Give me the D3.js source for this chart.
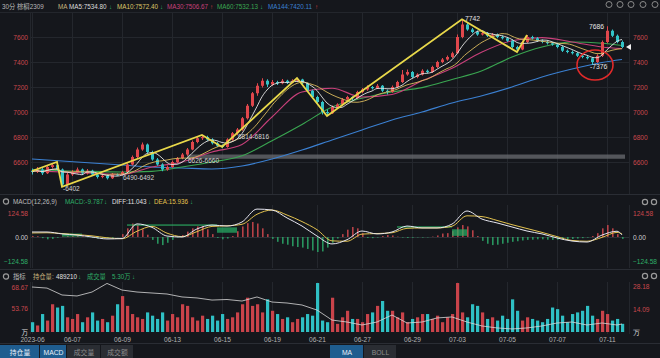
<!DOCTYPE html>
<html><head><meta charset="utf-8">
<script src="https://cdn.jsdelivr.net/npm/d3@7/dist/d3.min.js"></script>
<style>
html,body{margin:0;padding:0;background:#15171c;}
svg{display:block;font-family:"Liberation Sans","Noto Sans CJK SC",sans-serif;}
</style></head><body>
<svg id="c" width="660" height="358"></svg>
<script>
// ---------- DATA ----------
const candles = [
[6530,6548,6500,6520],[6520,6560,6512,6540],[6540,6552,6496,6510],[6510,6572,6504,6560],[6560,6590,6548,6575],
[6575,6600,6530,6540],[6540,6548,6402,6420],[6420,6512,6410,6500],[6500,6536,6488,6520],[6520,6556,6508,6540],
[6540,6548,6496,6510],[6510,6544,6500,6530],[6530,6538,6490,6500],[6500,6510,6468,6480],[6480,6506,6470,6490],
[6490,6500,6460,6470],[6470,6512,6464,6500],[6500,6508,6490,6495],[6495,6530,6490,6520],[6520,6590,6514,6580],
[6580,6652,6572,6640],[6640,6716,6630,6700],[6700,6756,6690,6740],[6740,6748,6670,6680],[6680,6690,6610,6620],
[6620,6632,6570,6580],[6580,6590,6526,6540],[6540,6572,6530,6560],[6560,6612,6552,6600],[6600,6640,6590,6630],
[6630,6672,6622,6660],[6660,6712,6650,6700],[6700,6772,6694,6760],[6760,6800,6750,6790],[6790,6816,6776,6800],
[6800,6810,6770,6780],[6780,6790,6740,6750],[6750,6760,6720,6730],[6730,6740,6710,6720],[6720,6790,6714,6780],
[6780,6840,6770,6830],[6830,6872,6814,6860],[6860,6960,6850,6950],[6950,7064,6940,7050],[7050,7160,7040,7150],
[7150,7230,7130,7210],[7210,7270,7196,7250],[7250,7262,7200,7220],[7220,7256,7210,7240],[7240,7250,7216,7230],
[7230,7264,7222,7250],[7250,7258,7224,7235],[7235,7262,7230,7250],[7250,7272,7240,7260],[7260,7266,7220,7230],
[7230,7236,7160,7170],[7170,7180,7110,7120],[7120,7130,7066,7080],[7080,7090,6980,7000],[7000,7020,6968,6990],
[6990,7052,6984,7040],[7040,7070,7030,7060],[7060,7112,7050,7100],[7100,7130,7090,7120],[7120,7126,7096,7110],
[7110,7170,7104,7160],[7160,7192,7150,7180],[7180,7214,7170,7200],[7200,7208,7180,7190],[7190,7224,7184,7210],
[7210,7216,7160,7170],[7170,7180,7140,7160],[7160,7212,7154,7200],[7200,7250,7192,7240],[7240,7336,7232,7300],
[7300,7340,7290,7320],[7320,7328,7270,7280],[7280,7310,7270,7300],[7300,7342,7292,7330],[7330,7340,7310,7320],
[7320,7370,7312,7360],[7360,7410,7352,7400],[7400,7432,7390,7420],[7420,7452,7410,7440],[7440,7482,7430,7470],
[7470,7620,7464,7600],[7600,7742,7590,7700],[7700,7712,7650,7660],[7660,7672,7630,7640],[7640,7652,7610,7620],
[7620,7646,7612,7630],[7630,7640,7600,7610],[7610,7632,7600,7620],[7620,7628,7590,7600],[7600,7612,7580,7590],
[7590,7600,7560,7570],[7570,7580,7510,7520],[7520,7530,7480,7500],[7500,7572,7494,7560],[7560,7616,7552,7600],
[7600,7610,7580,7590],[7590,7600,7560,7570],[7570,7580,7550,7560],[7560,7572,7540,7550],[7550,7560,7530,7540],
[7540,7548,7510,7520],[7520,7530,7480,7490],[7490,7500,7470,7480],[7480,7492,7460,7470],[7470,7480,7440,7450],
[7450,7462,7430,7440],[7440,7452,7420,7430],[7430,7440,7376,7400],[7400,7462,7392,7450],[7450,7572,7440,7560],
[7560,7686,7550,7650],[7650,7660,7600,7610],[7610,7620,7550,7560],[7560,7572,7510,7520]
];
const volumes = [6,4,11,7,17,15,16,9,8,11,6,9,12,7,8,6,10,17,22,16,11,9,8,12,10,8,12,7,11,9,
17,16,9,7,10,8,10,7,11,8,9,12,17,21,16,17,12,20,13,11,8,9,6,8,9,11,10,30,7,6,
21,5,9,13,8,8,6,11,12,16,19,13,13,9,12,6,8,9,11,11,8,10,6,9,11,30,12,9,17,16,
12,8,9,7,10,8,20,13,7,9,8,7,6,8,15,14,10,6,11,12,13,16,10,8,13,11,7,8,5];
const maIdx = [0,6,12,18,24,30,36,42,48,54,60,66,72,78,84,90,96,102,108,114,118];
const ma30  = [6530,6520,6510,6500,6560,6600,6680,6740,6960,7160,7190,7120,7140,7250,7350,7480,7570,7595,7560,7520,7506.67];
const ma60  = [6540,6530,6525,6520,6525,6560,6600,6650,6770,6900,7040,7110,7160,7195,7260,7330,7440,7520,7560,7550,7532.13];
const ma144 = [6624,6608,6592,6576,6560,6552,6544,6568,6624,6696,6776,6856,6936,7000,7072,7130,7200,7280,7344,7396,7420.11];
const subIdx = [0,3,6,9,12,15,18,21,24,27,30,33,36,39,42,45,48,51,54,57,60,63,66,69,72,75,78,81,84,87,90,93,96,99,102,105,108,111,114,117,118];
const diff = [26,26,16,10,0,-10,-8,68,50,5,0,42,62,57,78,145,140,99,57,5,-36,-14,31,16,26,57,47,47,67,135,93,73,52,31,16,-5,-21,-26,10,30,11.043];
const dea  = [21,22,18,12,6,-4,-9,30,55,20,2,28,55,58,66,118,140,114,80,38,-20,-22,15,18,22,45,47,47,56,110,106,86,64,44,24,2,-18,-22,-2,24,15.936];
const macdHist = [5,4,-6,-12,-10,-4,2,5,6,5,3,-2,-5,-8,-8,-6,-4,-1,15,45,70,62,40,12,-15,-35,-42,-30,-15,-3,
10,28,45,55,57,40,15,-5,-12,-8,5,30,55,72,78,70,45,15,-10,-25,-35,-40,-48,-52,-55,-62,-70,-78,-75,-55,
-30,-8,15,38,52,45,20,-5,-6,-3,5,10,8,2,-3,-5,-4,-2,-3,-2,2,8,18,20,30,50,62,55,35,5,
-20,-35,-42,-40,-35,-30,-25,-22,-18,-15,-14,-12,-12,-14,-15,-14,-12,-12,-10,-8,-6,-3,5,20,45,62,45,15,-9.787];
const openInterest = [68.67,67.9,63.0,62.3,65.1,71.2,66.5,65.1,64.4,63.7,61.6,60.9,59.4,59.8,58.7,61.6,58.0,57.3,55.9,52.3,
45.2,43.8,41.7,43.8,48.8,43.1,43.8,46.7,47.4,43.8,41.0,39.6,38.9,39.6,41.0,43.1,43.8,41.7,43.1,41.7,42.4];
const zigzag = [[0,6528],[5,6600],[6,6402],[34,6816],[38,6720],[53,7272],[59,6968],[86,7742],[97,7480],[99,7616]];
const priceLabels = [[6,6402,"-6402"],[18,6490,"6490-6492"],[31,6626,"6626-6660"],[41,6814,"6814-6816"]];
const gapBand = [31,6626,6660];
const peakLabels = [[86,7742,"7742","start"],[115,7686,"7686","end"],[112,7376,"-7376","start"]];
const dateTicks = [[0,"2023-06"],[8,"06-07"],[18,"06-09"],[28,"06-13"],[38,"06-15"],[48,"06-19"],[57,"06-21"],[66,"06-27"],[76,"06-29"],[85,"07-03"],[95,"07-05"],[105,"07-07"],[115,"07-11"]];
const priceTicks = [6600,6800,7000,7200,7400,7600];
const macdTicks = [-124.58,0,124.58];
const volTicks = [0,14.09,28.18];
const oiTicks = [53.76,68.67];
const macdMarks = [[19,37,62],[73,84,52]];
const macdBoxes = [[6,10,2,18],[37,41,22,50],[84,87,6,40]];

// ---------- SETUP ----------
const svg = d3.select("#c");
svg.append("rect").attr("width",660).attr("height",358).attr("fill","#15171c");
const N = candles.length;
const x = d3.scaleLinear().domain([0,N-1]).range([32,622]);
const y = d3.scaleLinear().domain([6600,7600]).range([162,37]);
const yM = d3.scaleLinear().domain([-124.58,124.58]).range([261,213]);
const yV = d3.scaleLinear().domain([0,28.18]).range([332,286]);
const yOI = d3.scaleLinear().domain([53.76,68.67]).range([308,287]);
const RED="#e0474c", CYAN="#33c3c7", GREEN="#2fae67", GRID="#24272d";

[194.5,269.5,343.5].forEach(b=>{
  svg.append("line").attr("x1",0).attr("x2",660).attr("y1",b).attr("y2",b).attr("stroke","#2a2d34");
});
svg.append("line").attr("x1",0).attr("x2",660).attr("y1",12.5).attr("y2",12.5).attr("stroke","#23262c");
[30.5,629.5].forEach(v=>{
  [[13,194],[205,268],[282,334]].forEach(([a,b])=>svg.append("line").attr("x1",v).attr("x2",v).attr("y1",a).attr("y2",b).attr("stroke","#23262c"));
});

// grid
const g = svg.append("g");
priceTicks.forEach(p=>g.append("line").attr("x1",31).attr("x2",629).attr("y1",Math.round(y(p))+0.5).attr("y2",Math.round(y(p))+0.5).attr("stroke",GRID));
dateTicks.forEach(([i])=>{
  const xx = Math.round(x(i))+0.5;
  [[13,194],[205,268],[282,334]].forEach(([a,b])=>g.append("line").attr("x1",xx).attr("x2",xx).attr("y1",a).attr("y2",b).attr("stroke",GRID));
});
g.append("line").attr("x1",31).attr("x2",629).attr("y1",yM(0)+0.5).attr("y2",yM(0)+0.5).attr("stroke","#2c3036");

// ---------- MAIN PANEL ----------
svg.append("defs").append("clipPath").attr("id","mainclip").append("rect").attr("x",31).attr("y",13).attr("width",598).attr("height",181);
const main = svg.append("g").attr("clip-path","url(#mainclip)");

main.append("rect").attr("x",x(gapBand[0])).attr("width",x(N-1)+3-x(gapBand[0]))
  .attr("y",y(gapBand[2])).attr("height",y(gapBand[1])-y(gapBand[2])).attr("fill","#6a6c70").attr("opacity",0.75);

const closes = candles.map(d=>d[3]);
const rolling = n => closes.map((c,i)=>d3.mean(closes.slice(Math.max(0,i-n+1),i+1)));
const line = d3.line().x(d=>x(d[0])).y(d=>y(d[1])).curve(d3.curveMonotoneX);
const drawMA = (idx, vals, color, w) => main.append("path").attr("d",line(idx.map((i,k)=>[i,vals[k]]))).attr("fill","none").attr("stroke",color).attr("stroke-width",w);
drawMA(maIdx, ma144, "#3b80d2", 1.1);
drawMA(maIdx, ma60, "#3aa651", 1.1);
drawMA(maIdx, ma30, "#c8407a", 1.1);

const cg = main.append("g");
candles.forEach((d,i)=>{
  const [o,h,l,c]=d; const col = c>=o?RED:CYAN; const cx = Math.round(x(i));
  cg.append("line").attr("x1",cx+0.5).attr("x2",cx+0.5).attr("y1",y(h)).attr("y2",y(l)).attr("stroke",col).attr("stroke-width",1);
  const top = y(Math.max(o,c)), bot = y(Math.min(o,c));
  cg.append("rect").attr("x",cx-1).attr("width",3).attr("y",top).attr("height",Math.max(1,bot-top)).attr("fill",col);
});

const ma5 = rolling(5), ma10 = rolling(10);
main.append("path").attr("d",line(ma10.map((v,i)=>[i,v]))).attr("fill","none").attr("stroke","#d9b95c").attr("stroke-width",0.9);
main.append("path").attr("d",line(ma5.map((v,i)=>[i,v]))).attr("fill","none").attr("stroke","#e4e4e4").attr("stroke-width",0.9);

main.append("path").attr("d",d3.line().x(d=>x(d[0])).y(d=>y(d[1]))(zigzag)).attr("fill","none").attr("stroke","#e8d84a").attr("stroke-width",1.8);

priceLabels.forEach(([i,p,t])=>main.append("text").attr("x",x(i)+1).attr("y",y(p)+4).attr("fill","#d4d4d4").attr("font-size",6.5).text(t));
peakLabels.forEach(([i,p,t,a])=>main.append("text").attr("x",a==="end"?x(i)-3:x(i)+(t[0]==="-"?-2:3)).attr("y",a==="end"?y(p)+3:(t[0]==="-"?y(p)+4:y(p)+2)).attr("text-anchor",a).attr("fill","#e6e6e6").attr("font-size",6.8).text(t));

svg.append("ellipse").attr("cx",x(112)+3).attr("cy",y(7376)).attr("rx",18).attr("ry",15).attr("fill","none").attr("stroke","#e02a2a").attr("stroke-width",1.6);

const lp = y(closes[N-1]);
svg.append("path").attr("d",`M626,${lp} L631,${lp-3} L631,${lp+3} Z`).attr("fill","#f0f0f0");

const styleAxis = (sel,color)=>{sel.select(".domain").remove(); sel.selectAll("text").attr("fill",color).attr("font-size",6.6).attr("font-family","Liberation Sans, sans-serif");};
svg.append("g").attr("transform","translate(30,0)").call(d3.axisLeft(y).tickValues(priceTicks).tickSize(0).tickPadding(2).tickFormat(d3.format("d"))).call(s=>styleAxis(s,"#c9474c"));
svg.append("g").attr("transform","translate(630,0)").call(d3.axisRight(y).tickValues(priceTicks).tickSize(0).tickPadding(3).tickFormat(d3.format("d"))).call(s=>styleAxis(s,"#c9474c"));

// ---------- MACD PANEL ----------
const mg = svg.append("g");
macdHist.forEach((v,i)=>{
  const cx = Math.round(x(i));
  mg.append("rect").attr("x",cx).attr("width",1.6).attr("y",Math.min(yM(v),yM(0))).attr("height",Math.abs(yM(v)-yM(0))).attr("fill",v>=0?"#c8464c":"#2aa266").attr("opacity",0.9);
});
macdMarks.forEach(([a,b,v])=>mg.append("line").attr("x1",x(a)).attr("x2",x(b)).attr("y1",yM(v)).attr("y2",yM(v)).attr("stroke","#2fbf6a").attr("stroke-width",1));
macdBoxes.forEach(([a,b,lo,hi])=>mg.append("rect").attr("x",x(a)).attr("width",x(b)-x(a)).attr("y",yM(hi)).attr("height",yM(lo)-yM(hi)).attr("fill","#27b366").attr("opacity",0.7));
const mline = d3.line().x(d=>x(d[0])).y(d=>yM(d[1])).curve(d3.curveMonotoneX);
mg.append("path").attr("d",mline(subIdx.map((i,k)=>[i,dea[k]]))).attr("fill","none").attr("stroke","#e3c24e").attr("stroke-width",1);
mg.append("path").attr("d",mline(subIdx.map((i,k)=>[i,diff[k]]))).attr("fill","none").attr("stroke","#e6e6f0").attr("stroke-width",1);
const macdColor = d=>d>0?"#c9474c":(d<0?"#2fae67":"#cfcfcf");
const mfmt = d=>d===0?"0.00":d3.format(".2f")(d);
svg.append("g").attr("transform","translate(30,0)").call(d3.axisLeft(yM).tickValues(macdTicks).tickSize(0).tickPadding(2).tickFormat(mfmt)).call(s=>{styleAxis(s,"#ccc");s.selectAll("text").attr("fill",macdColor);});
svg.append("g").attr("transform","translate(630,0)").call(d3.axisRight(yM).tickValues(macdTicks).tickSize(0).tickPadding(3).tickFormat(mfmt)).call(s=>{styleAxis(s,"#ccc");s.selectAll("text").attr("fill",macdColor);});

// ---------- VOLUME PANEL ----------
const vg = svg.append("g");
volumes.forEach((v,i)=>{
  const [o,,,c]=candles[i]; const cx=Math.round(x(i));
  vg.append("rect").attr("x",cx-1).attr("width",3.2).attr("y",yV(v)).attr("height",yV(0)-yV(v)).attr("fill",c>=o?"#c9434a":"#2fc0c4");
});
vg.append("path").attr("d",d3.line().x(d=>x(d[0])).y(d=>yOI(d[1])).curve(d3.curveLinear)(subIdx.map((i,k)=>[i,openInterest[k]])))
  .attr("fill","none").attr("stroke","#d8d8d8").attr("stroke-width",0.8);
svg.append("g").attr("transform","translate(30,0)").call(d3.axisLeft(yOI).tickValues(oiTicks).tickSize(0).tickPadding(2).tickFormat(d3.format(".2f"))).call(s=>styleAxis(s,"#c9474c"));
svg.append("g").attr("transform","translate(630,0)").call(d3.axisRight(yV).tickValues(volTicks).tickSize(0).tickPadding(3).tickFormat(d=>d===0?"万":d3.format(".2f")(d))).call(s=>{styleAxis(s,"#c9474c");s.selectAll("text").attr("fill",d=>d===0?"#ddd":"#c9474c");});
svg.append("text").attr("x",28).attr("y",yV(0)+1).attr("text-anchor","end").attr("fill","#ddd").attr("font-size",6.6).attr("dominant-baseline","middle").text("万");

svg.append("g").attr("transform","translate(0,335)").call(d3.axisBottom(x).tickValues(dateTicks.map(d=>d[0])).tickSize(0).tickPadding(2).tickFormat((d,k)=>dateTicks[k][1])).call(s=>styleAxis(s,"#b4b4b4"));

// ---------- HEADERS ----------
const txt = (xx,yy,t,col,fs=6.3)=>svg.append("text").attr("x",xx).attr("y",yy).attr("fill",col).attr("font-size",fs).text(t);
txt(2,9,"30分 棕榈2309","#b8b8b8");
txt(58,9,"MA","#c8b47c");
txt(69,9,"MA5:7534.80","#dddddd"); txt(109,9,"↓",GREEN);
txt(117,9,"MA10:7572.40","#dcc667"); txt(160,9,"↓",GREEN);
txt(167,9,"MA30:7506.67","#c8407a"); txt(210,9,"↑","#d94040");
txt(217,9,"MA60:7532.13","#3aa651"); txt(260,9,"↓",GREEN);
txt(268,9,"MA144:7420.11","#3b80d2"); txt(315,9,"↑","#d94040");

const gear = (cx,cy)=>{svg.append("circle").attr("cx",cx).attr("cy",cy).attr("r",2.6).attr("fill","none").attr("stroke","#9a9a9a").attr("stroke-width",1.2);};
gear(6,201.5);
txt(13,204,"MACD(12,26,9)","#bdbdbd");
txt(65,204,"MACD:-9.787","#2fae67"); txt(104,204,"↓",GREEN);
txt(112,204,"DIFF:11.043","#e0e0e0"); txt(148,204,"↓",GREEN);
txt(154,204,"DEA:15.936","#e3c24e"); txt(190,204,"↓",GREEN);
gear(645,202); gear(654,202);

gear(6,276.5);
txt(13,279,"指标","#bdbdbd");
txt(33,279,"持仓量:","#c8b47c");
txt(56,279,"489210","#e0e0e0"); txt(78,279,"↓",GREEN);
txt(87,279,"成交量","#2fae67");
txt(112,279,"5.30万","#2fae67"); txt(132,279,"↓",GREEN);
gear(645,276); gear(654,276);

[609,620,631,643,655].forEach(cx=>svg.append("circle").attr("cx",cx).attr("cy",4.5).attr("r",3).attr("fill","none").attr("stroke","#8a8a8a").attr("stroke-width",1));

const tabs = [[0,40,"持仓量",true],[40,67,"MACD",true],[67,101,"成交量",false],[101,134,"成交额",false],[330,364,"MA",true],[364,397,"BOLL",false]];
tabs.forEach(([a,b,t,on])=>{
  svg.append("rect").attr("x",a).attr("y",345).attr("width",b-a-1).attr("height",13).attr("fill",on?"#1f5d8f":"#2a2d33");
  svg.append("text").attr("x",(a+b)/2).attr("y",354.5).attr("text-anchor","middle").attr("fill",on?"#e8f0f8":"#8c8c8c").attr("font-size",6.8).text(t);
});
</script>
</body></html>
